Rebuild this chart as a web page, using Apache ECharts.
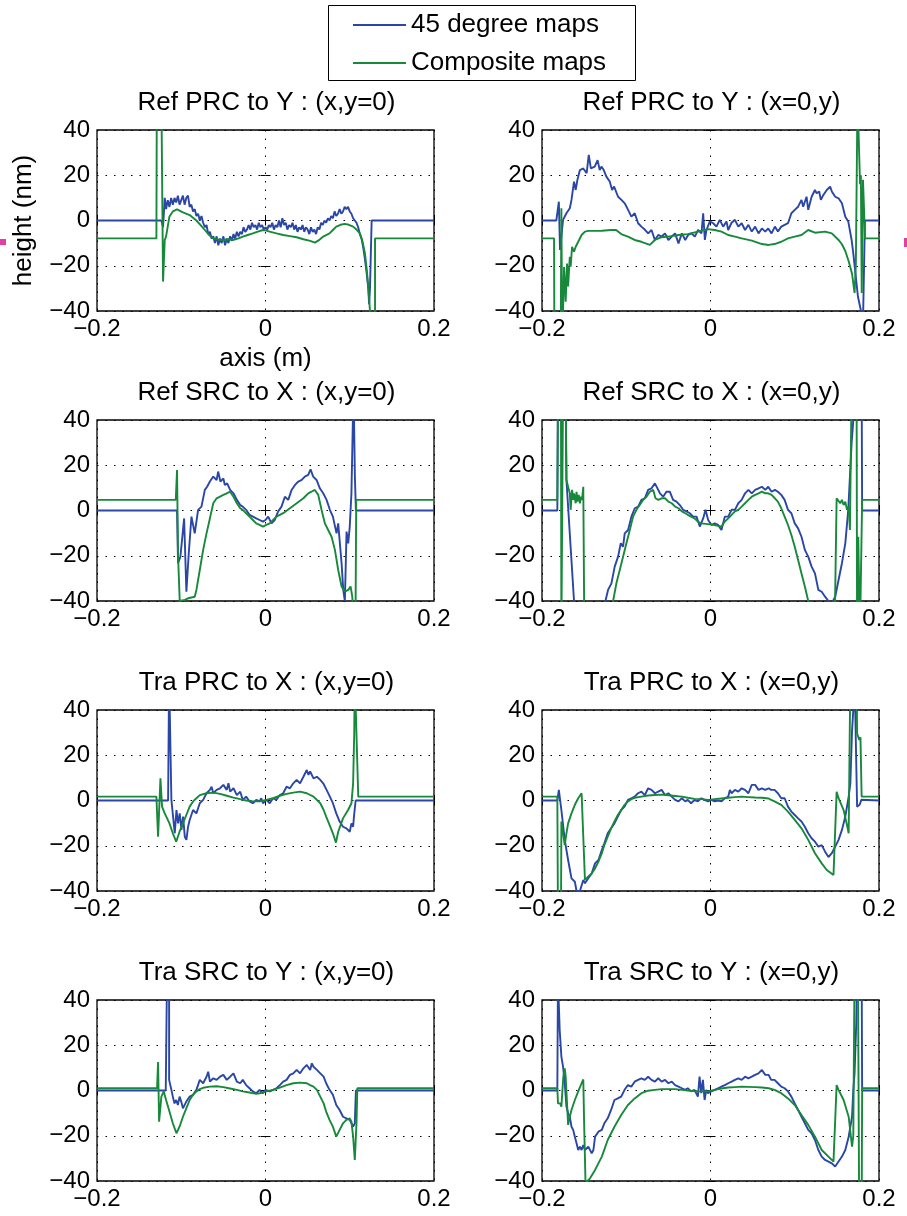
<!DOCTYPE html>
<html><head><meta charset="utf-8">
<script src="https://cdn.jsdelivr.net/npm/echarts@6/dist/echarts.min.js"></script>
<style>html,body{margin:0;padding:0;background:#fff}#c{width:907px;height:1216px}</style>
</head><body><div id="c"></div>
<script>
// ---------------- DATA ----------------
const seriesNames = ['45 degree maps', 'Composite maps'];
const panelTitles = [
  'Ref PRC to Y : (x,y=0)', 'Ref PRC to Y : (x=0,y)',
  'Ref SRC to X : (x,y=0)', 'Ref SRC to X : (x=0,y)',
  'Tra PRC to X : (x,y=0)', 'Tra PRC to X : (x=0,y)',
  'Tra SRC to Y : (x,y=0)', 'Tra SRC to Y : (x=0,y)'
];
const xTicks = [-0.2, 0, 0.2];
const yTicks = [-40, -20, 0, 20, 40];
const xLabel = 'axis (m)';
const yLabel = 'height (nm)';

const p1Blue = [[-0.2,0],[-0.1236,0],[-0.1216,-3],[-0.1196,10],[-0.118,5],[-0.116,9],[-0.114,6],[-0.112,10],[-0.110,7],[-0.108,10],[-0.106,8],[-0.104,11],[-0.102,7],[-0.100,9],[-0.098,11],[-0.096,7],[-0.094,10],[-0.092,11],[-0.090,6],[-0.088,7],[-0.086,4],[-0.084,5],[-0.082,2],[-0.080,3],[-0.078,0],[-0.076,2],[-0.074,-1],[-0.072,-3],[-0.070,-2],[-0.068,-6],[-0.066,-5],[-0.064,-8],[-0.062,-7],[-0.060,-10],[-0.058,-7],[-0.056,-11],[-0.054,-8],[-0.052,-10],[-0.050,-7],[-0.048,-11],[-0.046,-8],[-0.044,-10],[-0.042,-7],[-0.040,-9],[-0.038,-6],[-0.036,-8],[-0.034,-5],[-0.032,-7],[-0.030,-5],[-0.028,-6],[-0.026,-3],[-0.024,-5],[-0.022,-4],[-0.020,-2],[-0.018,-4],[-0.016,-1],[-0.014,-3],[-0.012,-2],[-0.010,-4],[-0.008,-1],[-0.006,-3],[-0.004,-2],[-0.002,-4],[0,-3],[0.002,-4],[0.004,-2],[0.006,-3],[0.008,-1],[0.010,-4],[0.012,-2],[0.014,-3],[0.016,0],[0.018,-3],[0.020,1],[0.022,-2],[0.024,-1],[0.026,-4],[0.028,-2],[0.030,-3],[0.032,-1],[0.034,-4],[0.036,-2],[0.038,-5],[0.040,-3],[0.042,-4],[0.044,-2],[0.046,-5],[0.048,-3],[0.050,-4],[0.052,-6],[0.054,-3],[0.056,-5],[0.058,-4],[0.060,-6],[0.062,-3],[0.064,-4],[0.066,-1],[0.068,-2],[0.070,0],[0.072,-1],[0.074,1],[0.076,0],[0.078,2],[0.080,1],[0.082,4],[0.084,2],[0.086,3],[0.088,5],[0.090,3],[0.092,4],[0.094,6],[0.096,5],[0.098,6],[0.100,4],[0.102,3],[0.104,1],[0.106,0],[0.108,-1],[0.110,-3],[0.112,-6],[0.114,-8],[0.116,-12],[0.118,-17],[0.120,-23],[0.122,-30],[0.123,-37],[0.124,-30],[0.126,0],[0.2,0]];
const p1Green = [[-0.2,-7.9],[-0.1295,-7.9],[-0.129,55],[-0.1236,55],[-0.1216,-27],[-0.1196,-8.6],[-0.118,-7],[-0.114,1.8],[-0.110,4],[-0.105,4.9],[-0.098,3.6],[-0.090,2.4],[-0.082,0],[-0.077,-2],[-0.072,-4.2],[-0.067,-6.4],[-0.062,-7.9],[-0.056,-8.4],[-0.050,-8.6],[-0.044,-8.3],[-0.038,-8.6],[-0.032,-7.9],[-0.027,-7.1],[-0.021,-6.4],[-0.015,-5.7],[-0.009,-4.9],[-0.003,-4.2],[0.001,-4.5],[0.005,-4.9],[0.013,-5.7],[0.021,-6.4],[0.029,-6.9],[0.037,-7.4],[0.045,-8.3],[0.053,-9.0],[0.0586,-9.8],[0.063,-8.8],[0.0685,-7.1],[0.076,-5.7],[0.080,-4.2],[0.084,-2.7],[0.089,-1.9],[0.094,-1.5],[0.099,-1.9],[0.104,-2.7],[0.108,-4.0],[0.112,-5.7],[0.115,-9],[0.118,-14.5],[0.120,-21],[0.122,-29.2],[0.124,-40],[0.125,-55],[0.130,-55],[0.130,-7.9],[0.2,-7.9]];

const p2Blue = [[-0.2,0],[-0.183,0],[-0.180,8.3],[-0.1786,-13],[-0.175,0.3],[-0.171,3.2],[-0.167,5.4],[-0.165,9.1],[-0.162,17.2],[-0.160,13.5],[-0.158,17.9],[-0.155,22.3],[-0.151,23],[-0.147,20.9],[-0.1445,29],[-0.142,23],[-0.1374,23.8],[-0.134,26.7],[-0.1315,22.3],[-0.1295,23.8],[-0.1267,22.3],[-0.1236,19.4],[-0.1196,17.2],[-0.1168,13.5],[-0.1144,15],[-0.1097,10.5],[-0.1057,9.1],[-0.1018,7.6],[-0.0978,4.7],[-0.0939,1.7],[-0.0899,3.2],[-0.0859,-1.2],[-0.082,-2.7],[-0.078,-4],[-0.074,-5.7],[-0.070,-4.2],[-0.066,-8.6],[-0.062,-6.4],[-0.058,-7.1],[-0.054,-5.7],[-0.050,-8.6],[-0.046,-7.1],[-0.042,-5.7],[-0.038,-10.1],[-0.034,-5.7],[-0.030,-8.6],[-0.0265,-6.4],[-0.0226,-5.7],[-0.0186,-7.1],[-0.0147,-4.2],[-0.0107,-5.7],[-0.0087,3.2],[-0.0067,-8.6],[-0.0048,-4.2],[-0.0008,-0.4],[0.0032,-1.2],[0.0071,-2.7],[0.011,0.3],[0.015,-2.7],[0.019,-0.4],[0.021,-4.2],[0.025,-1],[0.029,0.3],[0.033,-2.7],[0.037,-1.2],[0.041,-4.2],[0.045,-1.9],[0.049,-4.9],[0.053,-2.7],[0.057,-5.7],[0.061,-3.5],[0.065,-4.9],[0.0685,-3.5],[0.0725,-5.7],[0.0764,-2.7],[0.080,-4.9],[0.084,-2.7],[0.088,-1.9],[0.092,-1.2],[0.096,3.2],[0.100,4.7],[0.104,6.1],[0.108,9.1],[0.110,6.1],[0.114,10.5],[0.116,4.7],[0.120,10.5],[0.124,13.5],[0.126,12],[0.129,12.8],[0.131,9.1],[0.134,11.3],[0.138,13.5],[0.142,15],[0.144,12.8],[0.148,10.5],[0.152,9.8],[0.156,7.6],[0.160,1.7],[0.1635,-0.4],[0.1675,-8.6],[0.1695,-14.5],[0.172,-23.3],[0.175,-33.6],[0.1786,-40],[0.181,-45],[0.1833,0],[0.2,0]];
const p2Green = [[-0.2,-7.9],[-0.1857,-7.9],[-0.1853,-55],[-0.1778,-55],[-0.177,5.4],[-0.176,-55],[-0.1738,-20.6],[-0.1719,-35.9],[-0.1703,-19],[-0.169,-29.2],[-0.167,-16],[-0.166,-20.4],[-0.1643,-11.6],[-0.162,-13.8],[-0.160,-11.6],[-0.157,-9.4],[-0.153,-6.4],[-0.149,-4.9],[-0.145,-4.6],[-0.137,-4.6],[-0.129,-4.5],[-0.118,-4.2],[-0.112,-4.2],[-0.106,-6.0],[-0.098,-7.1],[-0.090,-8.6],[-0.082,-9.4],[-0.072,-10.8],[-0.066,-8.6],[-0.058,-7.4],[-0.050,-7.1],[-0.038,-6.4],[-0.027,-6.0],[-0.015,-4.9],[-0.003,-3.8],[0.005,-4.2],[0.013,-4.9],[0.021,-6.4],[0.029,-7.1],[0.037,-7.9],[0.049,-8.9],[0.061,-10.4],[0.069,-10.8],[0.076,-10.4],[0.084,-9.4],[0.092,-7.9],[0.100,-7.1],[0.108,-6.4],[0.116,-4.2],[0.124,-5.4],[0.136,-4.9],[0.144,-5.7],[0.152,-8.6],[0.156,-10.5],[0.160,-13.5],[0.164,-18],[0.168,-23.5],[0.171,-32],[0.1725,-20],[0.1745,55],[0.176,55],[0.1775,16],[0.1785,20],[0.1795,-32],[0.181,18],[0.1834,-7.9],[0.2,-7.9]];

const p3Blue = [[-0.2,0],[-0.105,0],[-0.1038,-23.3],[-0.101,-20.4],[-0.0966,-3.5],[-0.0939,-35.9],[-0.0911,-19],[-0.0879,-2.7],[-0.084,-10.1],[-0.080,0.3],[-0.076,1.7],[-0.072,9.1],[-0.0693,10.5],[-0.066,12.8],[-0.062,15.0],[-0.058,13.5],[-0.0562,17.2],[-0.0535,12.8],[-0.050,14.2],[-0.0483,11.3],[-0.0455,12.0],[-0.042,9.1],[-0.038,7.6],[-0.034,4.7],[-0.030,2.4],[-0.027,1.7],[-0.023,0.3],[-0.019,-1.9],[-0.015,-2.7],[-0.011,-3.5],[-0.007,-4.2],[-0.003,-4.9],[0,-4.2],[0.0032,-2.7],[0.0071,-5.7],[0.011,-4.2],[0.015,-0.4],[0.019,1.7],[0.023,6.1],[0.027,4.7],[0.031,9.1],[0.035,11.3],[0.039,12.8],[0.043,13.5],[0.0467,15.0],[0.0507,15.7],[0.0535,18.2],[0.0566,15.0],[0.0606,13.5],[0.0645,9.8],[0.0685,7.6],[0.0725,4.7],[0.0764,0.3],[0.080,-2.7],[0.0843,-10.1],[0.0863,-5.7],[0.0883,-14.5],[0.0903,-23.3],[0.0923,-35.1],[0.0942,-40],[0.0962,-9.3],[0.0982,-14.5],[0.100,-7.1],[0.102,7.6],[0.1045,55],[0.1061,15.0],[0.1073,0],[0.2,0]];
const p3Green = [[-0.2,4.7],[-0.1065,4.7],[-0.105,17.9],[-0.1038,-20],[-0.1018,-40],[-0.0958,-39.5],[-0.0919,-38.8],[-0.084,-38.1],[-0.082,-35.1],[-0.078,-26.3],[-0.074,-17.4],[-0.070,-10.1],[-0.066,-3.5],[-0.062,3.2],[-0.058,5.4],[-0.050,6.9],[-0.046,7.6],[-0.042,8.3],[-0.038,6.1],[-0.034,3.2],[-0.030,1.0],[-0.027,0.3],[-0.023,-1.2],[-0.019,-2.7],[-0.015,-4.2],[-0.011,-5.7],[-0.007,-6.4],[-0.003,-7.1],[0.001,-6.4],[0.005,-5.7],[0.009,-4.2],[0.013,-2.7],[0.021,-1.2],[0.029,1.0],[0.037,3.2],[0.045,5.4],[0.0507,7.6],[0.0546,8.3],[0.0586,9.1],[0.0626,6.9],[0.0665,0.3],[0.0705,-5.7],[0.0744,-8.6],[0.0784,-11.6],[0.0824,-17.4],[0.0863,-26.3],[0.0903,-33.6],[0.0942,-35.9],[0.0982,-35.1],[0.101,-33.6],[0.103,-38.1],[0.1041,-45],[0.1069,-45],[0.1077,4.7],[0.2,4.7]];

const p4Blue = [[-0.2,0],[-0.1818,0],[-0.181,55],[-0.172,55],[-0.171,13.5],[-0.162,-40],[-0.161,-55],[-0.1255,-55],[-0.1247,-40],[-0.1216,-35.1],[-0.1176,-32.2],[-0.1137,-24.8],[-0.1097,-20.4],[-0.1065,-14.5],[-0.1038,-16],[-0.1018,-10.1],[-0.0978,-8.6],[-0.0939,-2.7],[-0.0899,1.0],[-0.0859,1.7],[-0.082,4.7],[-0.078,5.4],[-0.074,9.1],[-0.070,9.8],[-0.066,12.0],[-0.064,11.3],[-0.060,7.6],[-0.0562,6.1],[-0.0523,8.3],[-0.0483,8.3],[-0.0444,4.7],[-0.0404,3.9],[-0.0364,2.4],[-0.0325,0.3],[-0.0285,-0.4],[-0.0246,-1.2],[-0.0206,-2.7],[-0.0166,-2.7],[-0.0127,-7.1],[-0.0087,-3.5],[-0.0059,0.3],[-0.0028,-4.2],[0.0012,-6.4],[0.005,-5.7],[0.009,-6.4],[0.013,-8.6],[0.017,-2.7],[0.021,-2.7],[0.025,0.3],[0.029,0.3],[0.033,3.2],[0.037,4.7],[0.041,7.6],[0.045,9.1],[0.049,7.6],[0.053,9.1],[0.057,9.8],[0.061,10.5],[0.065,9.1],[0.0685,10.5],[0.0725,8.3],[0.0764,9.1],[0.080,8.3],[0.084,6.9],[0.088,4.7],[0.092,0.3],[0.096,-1.2],[0.100,-5.7],[0.104,-7.9],[0.108,-11.6],[0.112,-17.4],[0.116,-20.4],[0.120,-24.8],[0.124,-27.8],[0.128,-35.1],[0.132,-35.9],[0.136,-38.1],[0.140,-40],[0.144,-41],[0.148,-38.1],[0.152,-30.7],[0.156,-23.3],[0.160,-14.5],[0.1635,0.3],[0.1655,15.0],[0.1675,29.7],[0.1695,40],[0.171,55],[0.1794,55],[0.1800,0],[0.2,0]];
const p4Green = [[-0.2,4.7],[-0.1818,4.7],[-0.181,55],[-0.1775,55],[-0.177,-55],[-0.1755,-55],[-0.175,55],[-0.172,55],[-0.171,13.5],[-0.169,10.5],[-0.167,7.6],[-0.166,0.3],[-0.1643,9.1],[-0.163,4.7],[-0.162,7.6],[-0.160,3.2],[-0.159,8.3],[-0.158,3.9],[-0.1564,6.9],[-0.155,3.2],[-0.154,6.1],[-0.1525,4.7],[-0.151,10.5],[-0.150,-40],[-0.1495,-55],[-0.116,-55],[-0.1156,-40],[-0.1117,-32.2],[-0.1077,-26.3],[-0.1038,-20.4],[-0.0998,-14.5],[-0.0958,-8.6],[-0.0919,-2.7],[-0.0879,0.3],[-0.084,2.4],[-0.080,4.7],[-0.076,6.1],[-0.072,8.3],[-0.068,9.1],[-0.0653,5.4],[-0.062,4.7],[-0.058,5.4],[-0.054,5.4],[-0.050,3.9],[-0.046,3.2],[-0.042,1.7],[-0.038,1.0],[-0.034,-0.4],[-0.030,-1.2],[-0.027,-1.9],[-0.023,-2.7],[-0.019,-3.5],[-0.015,-4.9],[-0.011,-5.7],[-0.003,-6.0],[0.005,-6.4],[0.013,-7.1],[0.017,-4.9],[0.021,-3.5],[0.025,-1.9],[0.029,-0.4],[0.033,0.3],[0.037,1.7],[0.041,3.2],[0.045,4.7],[0.049,6.1],[0.053,6.9],[0.057,7.6],[0.061,8.3],[0.065,7.6],[0.0685,7.6],[0.0725,6.9],[0.0764,5.4],[0.080,3.9],[0.084,1.0],[0.088,-2.7],[0.092,-6.4],[0.096,-10.8],[0.100,-16.0],[0.104,-21.9],[0.108,-27.8],[0.112,-33.6],[0.116,-40],[0.118,-44],[0.1477,-44],[0.1497,5.4],[0.152,5.4],[0.154,3.2],[0.156,4.7],[0.158,2.4],[0.160,3.9],[0.162,0.3],[0.164,1.7],[0.1655,-8.6],[0.1675,55],[0.1734,55],[0.174,-55],[0.1754,-11.6],[0.1774,-55],[0.1794,-55],[0.1800,4.7],[0.2,4.7]];

const p5Blue = [[-0.2,0],[-0.1156,0],[-0.1144,55],[-0.1128,55],[-0.1117,0.3],[-0.1077,-14.5],[-0.1057,-4.2],[-0.1038,-10.1],[-0.1018,-5.7],[-0.0998,-13],[-0.0978,-7.1],[-0.0958,-16],[-0.0939,-17.4],[-0.0919,-11.6],[-0.090,-8.6],[-0.088,-7.9],[-0.086,-4.2],[-0.082,-5.7],[-0.078,-1.2],[-0.074,0.3],[-0.070,3.2],[-0.066,4.7],[-0.064,6.1],[-0.062,3.2],[-0.058,4.7],[-0.054,5.4],[-0.050,6.9],[-0.046,4.7],[-0.044,7.6],[-0.042,3.9],[-0.038,5.4],[-0.034,2.4],[-0.030,3.9],[-0.027,0.3],[-0.023,1.7],[-0.019,-0.4],[-0.015,-1.2],[-0.011,0.3],[-0.007,-0.4],[-0.005,1.0],[-0.003,-1.2],[0.001,0.3],[0.005,-1.2],[0.009,1.0],[0.013,0.3],[0.017,2.4],[0.021,3.2],[0.025,6.1],[0.029,5.4],[0.033,7.6],[0.037,9.1],[0.041,7.6],[0.045,10.5],[0.049,13.5],[0.051,11.3],[0.053,12.8],[0.057,9.8],[0.061,10.5],[0.065,9.1],[0.0685,7.6],[0.0725,4.7],[0.0764,1.7],[0.080,-1.2],[0.084,-5.7],[0.088,-9.3],[0.092,-11.6],[0.096,-12.3],[0.100,-13.8],[0.102,-10.1],[0.104,-11.6],[0.105,-7.1],[0.107,0],[0.2,0]];
const p5Green = [[-0.2,1.7],[-0.1295,1.7],[-0.1275,-16],[-0.1247,9.8],[-0.1228,-2.7],[-0.1196,-5.7],[-0.114,-10.1],[-0.110,-14.5],[-0.106,-18.2],[-0.102,-13.8],[-0.098,-10.1],[-0.094,-6.4],[-0.090,-2.7],[-0.086,-0.4],[-0.082,1.0],[-0.078,2.4],[-0.070,3.2],[-0.062,3.5],[-0.054,2.9],[-0.046,2.1],[-0.038,1.3],[-0.030,0.6],[-0.023,0],[-0.015,-0.4],[-0.007,-0.4],[0.001,0.3],[0.009,1.0],[0.017,2.1],[0.025,2.9],[0.033,3.5],[0.041,3.9],[0.049,3.2],[0.057,1.7],[0.065,-1.2],[0.069,-4.2],[0.072,-7.1],[0.076,-10.8],[0.080,-14.5],[0.0836,-18.6],[0.0863,-13.8],[0.092,-7.9],[0.098,-4.2],[0.102,-1.2],[0.104,7.6],[0.1053,29.7],[0.106,55],[0.1081,55],[0.1101,1.7],[0.2,1.7]];

const p6Blue = [[-0.2,0],[-0.1818,0],[-0.180,4.7],[-0.177,-4.2],[-0.173,-17.4],[-0.169,-26.3],[-0.165,-34.4],[-0.161,-35.9],[-0.159,-40],[-0.155,-40],[-0.151,-35.1],[-0.149,-36.6],[-0.145,-34.4],[-0.141,-32.2],[-0.137,-27.8],[-0.133,-26.3],[-0.129,-21.9],[-0.126,-18.9],[-0.122,-14.5],[-0.118,-12.3],[-0.114,-10.1],[-0.110,-7.1],[-0.106,-4.2],[-0.102,-2.7],[-0.098,0.3],[-0.094,1.0],[-0.090,1.7],[-0.086,3.2],[-0.082,3.9],[-0.078,2.4],[-0.074,5.4],[-0.070,4.7],[-0.066,3.2],[-0.062,3.9],[-0.058,4.7],[-0.054,2.4],[-0.050,3.2],[-0.046,1.7],[-0.042,0.3],[-0.038,-0.4],[-0.034,1.0],[-0.030,-0.4],[-0.027,0.3],[-0.023,-1.2],[-0.019,0.3],[-0.015,-0.4],[-0.011,1.0],[-0.007,0.3],[-0.003,-0.4],[0.001,0.3],[0.005,-0.4],[0.009,0],[0.013,-0.4],[0.017,1.0],[0.021,1.7],[0.023,4.7],[0.025,3.2],[0.029,4.7],[0.033,3.9],[0.037,5.4],[0.041,4.7],[0.045,3.2],[0.049,6.9],[0.053,6.9],[0.057,4.7],[0.061,5.4],[0.065,4.7],[0.069,5.4],[0.072,4.7],[0.076,4.7],[0.080,3.2],[0.084,1.0],[0.088,1.0],[0.092,-2.7],[0.096,-4.9],[0.100,-6.4],[0.104,-7.9],[0.108,-9.3],[0.112,-11.6],[0.116,-14.5],[0.120,-16.7],[0.124,-18.2],[0.128,-20.4],[0.132,-19.7],[0.136,-22.6],[0.140,-25],[0.144,-23.3],[0.148,-20.4],[0.152,-17.4],[0.156,-13],[0.160,-7.1],[0.164,1.7],[0.166,7.6],[0.168,31],[0.1695,40],[0.171,55],[0.173,55],[0.174,-2.7],[0.177,-1.9],[0.179,0.3],[0.181,0],[0.2,0]];
const p6Green = [[-0.2,1.7],[-0.1818,1.7],[-0.181,-55],[-0.1775,-55],[-0.177,-9.3],[-0.173,-19.7],[-0.171,-14.5],[-0.169,-10.1],[-0.165,-5.7],[-0.161,-1.9],[-0.157,1.0],[-0.153,3.2],[-0.151,3.9],[-0.149,-35.1],[-0.145,-33.6],[-0.141,-32.2],[-0.137,-30],[-0.133,-27],[-0.129,-23.3],[-0.126,-19.7],[-0.122,-16],[-0.118,-12.3],[-0.114,-9.3],[-0.110,-6.4],[-0.106,-4.2],[-0.102,-1.9],[-0.098,-0.4],[-0.094,0.6],[-0.090,1.2],[-0.082,1.7],[-0.074,2.2],[-0.066,2.4],[-0.058,2.6],[-0.050,2.3],[-0.042,2.0],[-0.034,1.7],[-0.027,1.2],[-0.019,0.7],[-0.011,0.6],[-0.003,0.3],[0.005,0.6],[0.013,0.9],[0.021,1.2],[0.029,1.5],[0.037,1.7],[0.045,1.5],[0.053,1.3],[0.061,1.2],[0.069,0.9],[0.072,0.3],[0.076,-0.4],[0.084,-1.9],[0.092,-4.9],[0.100,-8.6],[0.108,-12.3],[0.116,-17.4],[0.124,-23.3],[0.132,-27.8],[0.138,-30.7],[0.146,-32.9],[0.1497,3.9],[0.152,1.0],[0.158,-4.2],[0.162,-10.9],[0.164,-14.5],[0.166,55],[0.1734,55],[0.174,29.7],[0.1765,26.7],[0.178,28],[0.1794,1.7],[0.2,1.7]];

const p7Blue = [[-0.2,0],[-0.1184,0],[-0.1168,55],[-0.1144,55],[-0.1144,4.7],[-0.1117,0.3],[-0.110,-2.7],[-0.108,-5.7],[-0.106,-4.2],[-0.104,-6.4],[-0.102,-2.7],[-0.100,-4.9],[-0.098,-7.9],[-0.096,-7.1],[-0.094,-4.9],[-0.090,-2.7],[-0.086,-1.9],[-0.082,0.3],[-0.078,4.7],[-0.074,3.2],[-0.070,6.1],[-0.068,8.3],[-0.066,3.9],[-0.062,5.4],[-0.058,4.7],[-0.054,6.1],[-0.050,6.9],[-0.046,4.7],[-0.042,6.1],[-0.038,7.6],[-0.034,3.9],[-0.030,3.2],[-0.027,4.7],[-0.023,2.4],[-0.019,1.0],[-0.015,-0.4],[-0.011,-1.2],[-0.007,0.3],[-0.003,-1.2],[0,0.3],[0.005,-0.4],[0.009,0.3],[0.013,1.0],[0.017,2.4],[0.021,3.9],[0.025,4.7],[0.029,6.9],[0.033,7.6],[0.037,9.1],[0.041,7.6],[0.045,9.8],[0.049,11.3],[0.053,9.1],[0.055,12.0],[0.057,10.5],[0.061,9.1],[0.065,7.6],[0.069,6.1],[0.072,3.2],[0.076,0.3],[0.080,-1.9],[0.084,-6.4],[0.088,-8.6],[0.092,-11.6],[0.096,-12.3],[0.100,-13.0],[0.104,-16.0],[0.106,-14.5],[0.1073,0],[0.2,0]];
const p7Green = [[-0.2,1.0],[-0.1287,1.0],[-0.1275,12.6],[-0.1263,-13.8],[-0.1236,-2.7],[-0.1208,-0.4],[-0.118,-4.2],[-0.114,-9.3],[-0.110,-14.5],[-0.1057,-18.9],[-0.102,-16.0],[-0.098,-11.6],[-0.094,-7.9],[-0.090,-4.2],[-0.086,-1.9],[-0.082,-0.4],[-0.078,0.6],[-0.074,1.2],[-0.066,1.7],[-0.058,1.9],[-0.050,1.5],[-0.042,0.9],[-0.034,0.3],[-0.027,-0.4],[-0.019,-0.9],[-0.011,-1.5],[-0.007,-1.2],[0.001,-0.4],[0.009,0.3],[0.017,1.3],[0.025,2.4],[0.033,3.2],[0.041,3.5],[0.049,3.2],[0.053,2.4],[0.057,1.7],[0.061,0.3],[0.065,-2.7],[0.069,-5.7],[0.072,-9.3],[0.076,-13],[0.080,-16],[0.084,-20.4],[0.088,-17.4],[0.092,-14.5],[0.096,-13.0],[0.100,-12.3],[0.102,-13.8],[0.104,-20.4],[0.106,-30.7],[0.108,-14.5],[0.109,1.0],[0.2,1.0]];

const p8Blue = [[-0.2,0],[-0.1818,0],[-0.181,55],[-0.1802,40],[-0.179,26.7],[-0.177,15],[-0.175,10.5],[-0.173,3.2],[-0.171,-7.1],[-0.169,-10.1],[-0.167,-11.6],[-0.165,-16],[-0.163,-17.4],[-0.161,-20.4],[-0.159,-23.3],[-0.157,-26.3],[-0.155,-24.8],[-0.153,-26.3],[-0.151,-24.1],[-0.149,-26.3],[-0.145,-24.8],[-0.141,-27.8],[-0.139,-26.3],[-0.137,-20.4],[-0.133,-18.2],[-0.129,-17.4],[-0.126,-14.5],[-0.122,-12.3],[-0.118,-8.6],[-0.114,-4.2],[-0.110,-3.5],[-0.106,-2.7],[-0.102,0.3],[-0.098,2.4],[-0.094,1.7],[-0.090,3.9],[-0.086,4.7],[-0.082,5.4],[-0.078,4.7],[-0.074,6.1],[-0.070,4.7],[-0.066,3.9],[-0.062,5.4],[-0.058,3.9],[-0.054,4.7],[-0.050,3.2],[-0.046,3.9],[-0.042,2.4],[-0.038,1.7],[-0.034,1.0],[-0.030,0.3],[-0.027,1.0],[-0.023,-0.4],[-0.019,0.3],[-0.015,-2.7],[-0.013,6.1],[-0.011,-1.2],[-0.009,4.7],[-0.007,-4.2],[-0.005,0.3],[-0.003,-1.2],[0.001,-0.4],[0.005,0.3],[0.009,1.0],[0.013,1.7],[0.017,2.4],[0.021,3.2],[0.025,3.9],[0.029,4.7],[0.033,5.4],[0.037,4.7],[0.041,6.1],[0.045,5.4],[0.049,6.1],[0.053,6.9],[0.057,7.6],[0.061,9.1],[0.065,6.9],[0.069,6.9],[0.072,4.7],[0.076,4.7],[0.080,3.2],[0.084,1.7],[0.088,1.0],[0.092,-0.4],[0.096,-2.7],[0.100,-5.7],[0.104,-8.6],[0.108,-11.6],[0.112,-14.5],[0.116,-17.4],[0.120,-18.9],[0.124,-21.9],[0.128,-26.3],[0.132,-29.2],[0.136,-30.7],[0.140,-31.4],[0.144,-32.2],[0.148,-33.6],[0.152,-31.4],[0.156,-29.2],[0.160,-26.3],[0.164,-20.4],[0.168,-11.6],[0.1695,0.3],[0.171,7.6],[0.173,29.7],[0.174,55],[0.1794,55],[0.1800,0],[0.2,0]];
const p8Green = [[-0.2,1.0],[-0.1818,1.0],[-0.181,-5.7],[-0.1786,-5.7],[-0.177,-7.1],[-0.1747,6.1],[-0.173,9.8],[-0.1719,6.1],[-0.169,-15.2],[-0.167,-11.6],[-0.165,-8.6],[-0.161,-4.2],[-0.157,-0.4],[-0.153,3.2],[-0.151,4.9],[-0.150,-14.5],[-0.1484,-40],[-0.146,-40],[-0.143,-38.8],[-0.137,-35.1],[-0.129,-29.2],[-0.122,-21.9],[-0.114,-16],[-0.106,-10.8],[-0.098,-6.4],[-0.090,-3.5],[-0.082,-1.2],[-0.074,-0.1],[-0.066,0.3],[-0.058,0.6],[-0.050,0.6],[-0.042,0.6],[-0.034,0.3],[-0.027,0],[-0.019,-0.3],[-0.011,-0.4],[-0.003,-0.4],[0.005,0.3],[0.013,0.9],[0.021,1.3],[0.029,1.5],[0.037,1.7],[0.045,1.6],[0.053,1.5],[0.061,1.3],[0.069,1.0],[0.076,0.3],[0.084,-1.2],[0.092,-3.5],[0.100,-6.4],[0.108,-10.8],[0.116,-15.2],[0.124,-20.4],[0.132,-26.3],[0.140,-29.2],[0.146,-31.4],[0.1497,2.4],[0.152,0.3],[0.158,-4.2],[0.164,-11.6],[0.168,-24.8],[0.1695,-20],[0.171,55],[0.175,55],[0.1765,-55],[0.1794,-55],[0.1800,1.0],[0.2,1.0]];

const panelData = [
  [p1Blue, p1Green], [p2Blue, p2Green],
  [p3Blue, p3Green], [p4Blue, p4Green],
  [p5Blue, p5Green], [p6Blue, p6Green],
  [p7Blue, p7Green], [p8Blue, p8Green]
];

// ---------------- STYLE / LAYOUT ----------------
const FONT = '"Liberation Sans", Arial, Helvetica, sans-serif';
const COLORS = ['#2a46a6', '#17893a'];
const GRID_LEFT = [97, 542];
const GRID_TOP = [130, 420, 710, 1000];
const GRID_W = 337, GRID_H = 181;
const TICK_FS = 24, TITLE_FS = 26;

function fmtTick(v) {
  const r = Math.round(v * 10) / 10;
  if (Math.abs(r) < 1e-9) return '0';
  return (r < 0 ? '\u2212' : '') + Math.abs(r);
}

const chart = echarts.init(document.getElementById('c'), null, { renderer: 'canvas' });

const grids = [], xAxes = [], yAxes = [], series = [], graphics = [];
const dotted = { color: '#000', width: 1, type: [1.5, 7] };
const tick = { show: true, inside: true, length: 5, lineStyle: { color: '#000', width: 1 } };

panelData.forEach((pair, i) => {
  const col = i % 2, row = Math.floor(i / 2);
  const left = GRID_LEFT[col], top = GRID_TOP[row];
  grids.push({ left, top, width: GRID_W, height: GRID_H, show: true, borderColor: '#000', borderWidth: 1.3, containLabel: false });
  const xmin = xTicks[0], xmax = xTicks[xTicks.length - 1], xint = xTicks[1] - xTicks[0];
  const ymin = yTicks[0], ymax = yTicks[yTicks.length - 1], yint = yTicks[1] - yTicks[0];
  xAxes.push({
    type: 'value', gridIndex: i, min: xmin, max: xmax, interval: xint, position: 'bottom',
    axisLine: { show: false }, axisTick: tick,
    axisLabel: { formatter: fmtTick, fontSize: TICK_FS, color: '#000', fontFamily: FONT, margin: 6, showMinLabel: true, showMaxLabel: true },
    splitLine: { show: true, lineStyle: dotted },
    name: i === 0 ? xLabel : '', nameLocation: 'middle', nameGap: 35,
    nameTextStyle: { fontSize: TITLE_FS, color: '#000', fontFamily: FONT }
  });
  xAxes.push({
    type: 'value', gridIndex: i, min: xmin, max: xmax, interval: xint, position: 'top',
    axisLine: { show: false }, axisTick: tick, axisLabel: { show: false }, splitLine: { show: false }
  });
  yAxes.push({
    type: 'value', gridIndex: i, min: ymin, max: ymax, interval: yint, position: 'left',
    axisLine: { show: false }, axisTick: tick,
    axisLabel: { formatter: fmtTick, fontSize: TICK_FS, color: '#000', fontFamily: FONT, margin: 7, showMinLabel: true, showMaxLabel: true },
    splitLine: { show: true, lineStyle: dotted },
    name: i === 0 ? yLabel : '', nameLocation: 'middle', nameGap: 60,
    nameTextStyle: { fontSize: TITLE_FS, color: '#000', fontFamily: FONT }
  });
  yAxes.push({
    type: 'value', gridIndex: i, min: ymin, max: ymax, interval: yint, position: 'right',
    axisLine: { show: false }, axisTick: tick, axisLabel: { show: false }, splitLine: { show: false }
  });
  pair.forEach((d, k) => {
    series.push({
      type: 'line', name: seriesNames[k], data: d,
      xAxisIndex: 2 * i, yAxisIndex: 2 * i,
      symbol: 'none', showSymbol: false, clip: true, silent: true,
      color: COLORS[k], lineStyle: { color: COLORS[k], width: 1.9 },
      z: 2 + k, animation: false
    });
  });
  graphics.push({
    type: 'text', x: left + GRID_W / 2 + 1, y: top - 27,
    style: { text: panelTitles[i], fill: '#000', font: TITLE_FS + 'px ' + FONT, textAlign: 'center', textVerticalAlign: 'middle' }
  });
});

// legend frame
graphics.push({ type: 'rect', shape: { x: 328.5, y: 5.5, width: 307, height: 75 }, style: { fill: '#fff', stroke: '#000', lineWidth: 1 }, z: -1 });
// small magenta marks at the page edges
graphics.push({ type: 'rect', shape: { x: 0, y: 239, width: 6, height: 6 }, style: { fill: '#e23fa6' } });
graphics.push({ type: 'rect', shape: { x: 904, y: 238, width: 3, height: 9 }, style: { fill: '#e23fa6' } });

chart.setOption({
  animation: false,
  backgroundColor: '#fff',
  grid: grids, xAxis: xAxes, yAxis: yAxes, series,
  legend: {
    data: seriesNames, orient: 'vertical', left: 353, top: 10,
    itemWidth: 53, itemHeight: 2, icon: 'rect', itemGap: 8, padding: 0,
    selectedMode: false,
    textStyle: { fontSize: TITLE_FS, color: '#000', fontFamily: FONT, lineHeight: 30 }
  },
  graphic: graphics
});
</script>
</body></html>
